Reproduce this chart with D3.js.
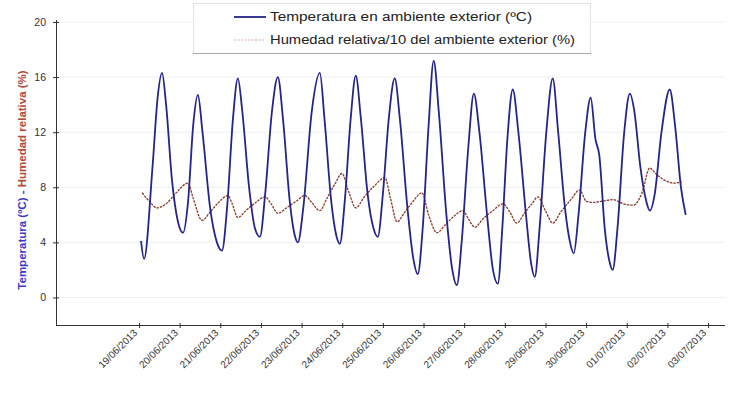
<!DOCTYPE html>
<html>
<head>
<meta charset="utf-8">
<script src="https://cdn.jsdelivr.net/npm/d3@7"></script>
<style>
  html, body { margin: 0; padding: 0; background: #ffffff; }
  svg { display: block; font-family: "Liberation Sans", Arial, sans-serif; }
</style>
</head>
<body>
<svg id="chart" width="740" height="393"></svg>
<script>
// Daily labels on the time axis (one per day, 00:00)
const dateLabels = [
  "19/06/2013", "20/06/2013", "21/06/2013", "22/06/2013", "23/06/2013",
  "24/06/2013", "25/06/2013", "26/06/2013", "27/06/2013", "28/06/2013",
  "29/06/2013", "30/06/2013", "01/07/2013", "02/07/2013", "03/07/2013"
];

// Outdoor temperature (ºC); hours counted from 19/06/2013 00:00
const tempHours = [
  1.2, 3.0, 8, 11, 13.6, 16, 19.5, 23, 26, 29, 32, 34.8, 37.5, 42, 46, 49,
  52, 55.5, 58.4, 61, 65, 68.5, 71.4, 74.5, 78.5, 82, 85, 89, 92, 93.8,
  97, 102, 106.8, 109.5, 113.5, 116.5, 118.6, 121.5, 125, 128, 131, 135, 138.5, 141,
  144, 147.5, 151, 154, 158.5, 162, 164.6, 167.5, 171, 174, 177, 181.5, 185, 187.7,
  190.5, 194.5, 197.7, 201, 205.5, 209, 211.9, 214.5, 217.5, 220.7, 224, 228.5, 231.5, 233.7,
  236.5, 240.5, 244.3, 247.5, 251.5, 254.5, 256.7, 259.5, 263.5, 266.7, 269.5, 271.8, 275, 278, 279.7,
  282.5, 286.5, 289.8, 292.5, 296, 299.5, 301.6, 304.5, 308.5, 313.4, 316.5, 320, 322.8
];
const tempValues = [
  4.1, 2.8, 9.5, 14.5, 16.3, 14.0, 8.5, 5.5, 4.7, 7.0, 12.5, 14.7, 12.0, 6.5, 4.0, 3.4,
  6.5, 13.0, 15.9, 13.5, 8.0, 5.0, 4.4, 7.5, 13.5, 16.0, 13.0, 7.0, 4.5, 4.0,
  6.5, 13.5, 16.3, 13.0, 7.0, 4.5, 3.9, 7.0, 13.0, 16.1, 13.0, 7.5, 5.0, 4.4,
  7.5, 13.0, 15.9, 13.0, 6.5, 2.8, 1.7, 5.0, 12.5, 17.2, 13.5, 6.0, 2.0, 0.9,
  4.0, 11.0, 14.8, 12.0, 6.0, 2.0, 1.0, 5.0, 11.5, 15.1, 12.0, 6.0, 2.5, 1.5,
  5.0, 12.0, 15.9, 12.0, 6.5, 4.0, 3.2, 6.0, 12.0, 14.5, 11.5, 10.3, 5.0, 2.5, 2.0,
  5.0, 12.0, 14.8, 13.5, 9.5, 7.0, 6.3, 7.5, 12.0, 15.1, 12.5, 8.0, 6.0
];

// Outdoor relative humidity divided by 10 (%)
const humHours = [
  1.8, 6, 10.6, 16, 22, 28.9, 32, 37.2, 42, 47, 52.5, 55, 58.4, 63, 69, 74.4,
  78, 82, 87, 93, 98, 102, 106.8, 111, 116, 119.8, 124, 128, 133, 139, 145.2,
  148.5, 152.3, 157, 162, 167, 171, 175.9, 181, 186, 191.2, 194.5, 198.3, 203, 209, 214.8,
  219, 223, 228, 232, 235.5, 240, 244.3, 249, 255, 260.2, 264, 268, 274, 280, 286,
  292, 297, 301.6, 305, 310.5, 316, 320.5
];
const humValues = [
  7.6, 7.0, 6.5, 6.8, 7.6, 8.3, 7.2, 5.6, 6.2, 6.9, 7.4, 6.8, 5.8, 6.3, 6.9, 7.3,
  6.8, 6.1, 6.5, 7.0, 7.4, 6.9, 6.3, 7.2, 8.3, 9.0, 7.6, 6.5, 7.3, 8.1, 8.7,
  7.2, 5.5, 6.2, 7.0, 7.6, 6.0, 4.7, 5.3, 5.9, 6.3, 5.7, 5.1, 5.7, 6.3, 6.8,
  6.2, 5.4, 6.2, 6.8, 7.3, 6.3, 5.4, 6.2, 7.1, 7.8, 7.0, 6.9, 7.0, 7.1, 6.8,
  6.7, 7.6, 9.4, 9.0, 8.5, 8.3, 8.4
];

// Value-axis ticks
const yTicks = [0, 4, 8, 12, 16, 20];

const legendLabels = [
  "Temperatura en ambiente exterior (ºC)",
  "Humedad relativa/10 del ambiente exterior (%)"
];

const tempColor = "#24248c";
const humColor = "#8a3b28";

const svg = d3.select("#chart");

const x = d3.scaleLinear().domain([-49, 346]).range([56, 725]);
const y = d3.scaleLinear().domain([-2, 20]).range([325, 22]);

// Faint horizontal gridlines
svg.append("g")
  .selectAll("line")
  .data(yTicks)
  .join("line")
  .attr("x1", 57).attr("x2", 725)
  .attr("y1", d => y(d)).attr("y2", d => y(d))
  .attr("stroke", "#efefef").attr("stroke-width", 1);

// Y axis
const yAxis = svg.append("g")
  .attr("transform", "translate(56,0)")
  .call(d3.axisLeft(y).tickValues(yTicks).tickSize(4).tickPadding(6));
yAxis.select(".domain").attr("d", `M0.5,${y(20) - 2}V${y(-2)}`).attr("stroke", "#333");
yAxis.selectAll(".tick line").attr("x1", -3).attr("x2", 3).attr("stroke", "#333");
yAxis.selectAll(".tick text").attr("font-size", 10.5).attr("fill", "#333");

// X axis with daily ticks
const dayTicks = dateLabels.map((d, i) => i * 24);
const xAxis = svg.append("g")
  .attr("transform", "translate(0,325)")
  .call(d3.axisBottom(x).tickValues(dayTicks).tickFormat((d, i) => dateLabels[i]).tickSize(4));
xAxis.select(".domain").attr("d", `M56,0.5H725`).attr("stroke", "#333");
xAxis.selectAll(".tick line").attr("y1", -2).attr("y2", 3).attr("stroke", "#333");
xAxis.selectAll(".tick text")
  .attr("font-size", 10)
  .attr("fill", "#333")
  .attr("text-anchor", "end")
  .attr("transform", "translate(-4,6) rotate(-45)")
  .attr("x", 0).attr("y", 0).attr("dy", "0.35em");

// Series lines
const tempData = tempHours.map((h, i) => [h, tempValues[i]]);
const humData = humHours.map((h, i) => [h, humValues[i]]);
const line = d3.line().x(d => x(d[0])).y(d => y(d[1])).curve(d3.curveMonotoneX);

svg.append("path")
  .datum(humData)
  .attr("d", line)
  .attr("fill", "none")
  .attr("stroke", humColor)
  .attr("stroke-width", 1.3)
  .attr("stroke-dasharray", "2.5,1");

svg.append("path")
  .datum(tempData)
  .attr("d", line)
  .attr("fill", "none")
  .attr("stroke", tempColor)
  .attr("stroke-width", 1.8)
  .attr("stroke-linejoin", "round");

// Legend
const legend = svg.append("g");
legend.append("rect")
  .attr("x", 193.5).attr("y", 3.5).attr("width", 397).attr("height", 50)
  .attr("fill", "#ffffff").attr("stroke", "#e2e2e2");
legend.append("line")
  .attr("x1", 193).attr("x2", 591).attr("y1", 53.5).attr("y2", 53.5)
  .attr("stroke", "#a8a8a8");
const legendRows = [
  { label: legendLabels[0], color: tempColor, width: 1.8, dash: null, y: 17, len: 262 },
  { label: legendLabels[1], color: "#d9a9a0", width: 1.2, dash: "2,1.5", y: 40, len: 305 }
];
legendRows.forEach(r => {
  legend.append("line")
    .attr("x1", 234).attr("x2", 266).attr("y1", r.y).attr("y2", r.y)
    .attr("stroke", r.color).attr("stroke-width", r.width)
    .attr("stroke-dasharray", r.dash);
  legend.append("text")
    .attr("x", 270).attr("y", r.y).attr("dy", "0.35em")
    .attr("font-size", 12).attr("fill", "#222")
    .attr("textLength", r.len).attr("lengthAdjust", "spacingAndGlyphs")
    .text(r.label);
});

// Y axis title, two colours
const title = svg.append("text")
  .attr("transform", "translate(22,180) rotate(-90)")
  .attr("text-anchor", "middle")
  .attr("dy", "0.35em")
  .attr("font-size", 11.5)
  .attr("font-weight", "bold");
title.append("tspan").attr("fill", "#3a3ac8").text("Temperatura (ºC) - ");
title.append("tspan").attr("fill", "#b4473a").text("Humedad relativa (%)");
</script>
</body>
</html>
